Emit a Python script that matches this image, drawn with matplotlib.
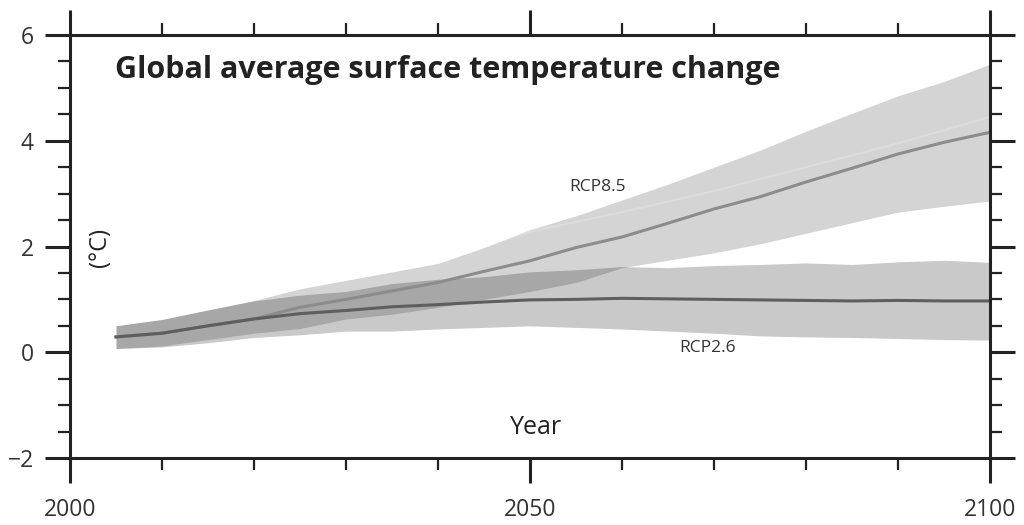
import matplotlib
matplotlib.use("Agg")
import matplotlib.pyplot as plt
import numpy as np
from matplotlib.ticker import MultipleLocator

# values, every 5 years
years = [2005, 2010, 2015, 2020, 2025, 2030, 2035, 2040, 2045, 2050,
         2055, 2060, 2065, 2070, 2075, 2080, 2085, 2090, 2095, 2100]

rcp85_mean = [0.29, 0.36, 0.50, 0.63, 0.85, 1.00, 1.16, 1.32, 1.53, 1.73,
              1.98, 2.18, 2.44, 2.71, 2.94, 3.22, 3.48, 3.75, 3.97, 4.16]
rcp85_high = [0.50, 0.62, 0.80, 0.98, 1.20, 1.36, 1.52, 1.68, 1.98, 2.32,
              2.58, 2.88, 3.18, 3.50, 3.82, 4.18, 4.52, 4.85, 5.12, 5.45]
rcp85_low = [0.07, 0.12, 0.24, 0.36, 0.45, 0.63, 0.72, 0.85, 1.00, 1.15,
             1.32, 1.60, 1.74, 1.88, 2.05, 2.25, 2.45, 2.65, 2.76, 2.86]

rcp26_mean = [0.29, 0.36, 0.50, 0.63, 0.73, 0.79, 0.86, 0.90, 0.95, 0.99,
              1.00, 1.02, 1.01, 1.00, 0.99, 0.98, 0.97, 0.98, 0.97, 0.97]
rcp26_high = [0.50, 0.62, 0.80, 0.97, 1.08, 1.15, 1.30, 1.38, 1.43, 1.52,
              1.56, 1.62, 1.60, 1.64, 1.66, 1.69, 1.66, 1.71, 1.74, 1.70]
rcp26_low = [0.07, 0.10, 0.18, 0.28, 0.33, 0.40, 0.40, 0.44, 0.47, 0.50,
             0.47, 0.44, 0.40, 0.36, 0.31, 0.29, 0.28, 0.26, 0.24, 0.23]

# faint line inside the RCP8.5 band
faint_years = [2045, 2050, 2060, 2070, 2080, 2090, 2100]
faint_vals = [2.00, 2.28, 2.65, 3.05, 3.50, 3.95, 4.45]

plt.rcParams["font.family"] = ["Open Sans", "DejaVu Sans"]

fig = plt.figure(figsize=(10.24, 5.25), dpi=100)
ax = fig.add_axes([70 / 1024, 1 - 458 / 525, 920 / 1024, 423 / 525])

ax.fill_between(years, rcp85_low, rcp85_high, color="k", alpha=0.17, lw=0)
ax.fill_between(years, rcp26_low, rcp26_high, color="k", alpha=0.21, lw=0)
ax.plot(faint_years, faint_vals, color="white", alpha=0.18, lw=1.5)
ax.plot(years, rcp85_mean, color="#8c8c8c", lw=2.2)
ax.plot(years, rcp26_mean, color="#5e5e5e", lw=2.2)

ax.set_xlim(2000, 2100)
ax.set_ylim(-2, 6)
ax.xaxis.set_major_locator(MultipleLocator(50))
ax.xaxis.set_minor_locator(MultipleLocator(10))
ax.yaxis.set_major_locator(MultipleLocator(2))
ax.yaxis.set_minor_locator(MultipleLocator(0.5))
ax.set_yticks([-2, 0, 2, 4, 6], ["\u22122", "0", "2", "4", "6"])

for s in ax.spines.values():
    s.set_linewidth(2.2)
    s.set_color("#222222")
ax.tick_params(which="both", direction="out", top=True, right=True,
               color="#222222", labelcolor="#333333")
ax.tick_params(which="major", length=18, width=2.2, labelsize=16.5)
ax.tick_params(axis="x", which="major", pad=11)
ax.tick_params(axis="y", which="major", pad=8)
ax.tick_params(which="minor", length=8.5, width=1.6)

ax.text(0.049, 0.918, "Global average surface temperature change",
        transform=ax.transAxes, fontsize=22, fontweight="bold",
        color="#222222", ha="left", va="center")
ax.text(0.507, 0.071, "Year", transform=ax.transAxes, fontsize=18,
        color="#222222", ha="center", va="center")
ax.text(0.033, 0.497, "(\u00b0C)", transform=ax.transAxes, fontsize=17,
        color="#222222", rotation=90, ha="center", va="center")
ax.text(2057.3, 3.13, "RCP8.5", fontsize=12.5, color="#333333",
        ha="center", va="center")
ax.text(2069.3, 0.08, "RCP2.6", fontsize=12.5, color="#333333",
        ha="center", va="center")

fig.savefig("out.png", dpi=100)
